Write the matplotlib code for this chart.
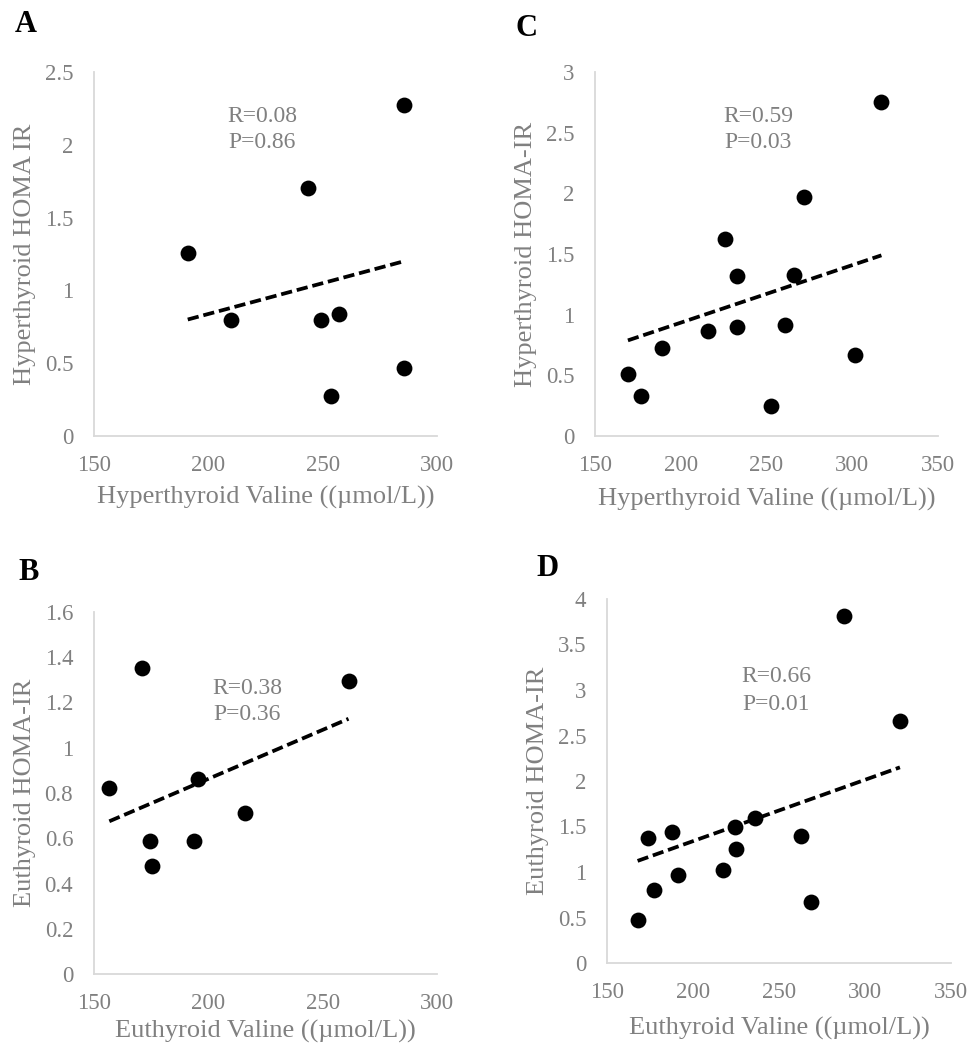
import numpy as np
import matplotlib
matplotlib.use("Agg")
import matplotlib.pyplot as plt

plt.rcParams['font.family'] = ['Liberation Serif', 'DejaVu Serif']

# panel A: hyperthyroid
a_x = [191, 209.9, 243.4, 249.1, 257.3, 253.6, 285.5, 285.5]
a_y = [1.26, 0.80, 1.70, 0.80, 0.84, 0.275, 2.27, 0.467]
a_trend = [0.80, 1.20]
# panel C: hyperthyroid
c_x = [169.2, 177, 189.1, 216.1, 225.8, 232.8, 232.6, 252.4, 260.8, 265.8, 271.7, 301.4, 317]
c_y = [0.514, 0.33, 0.725, 0.868, 1.624, 1.321, 0.896, 0.245, 0.918, 1.33, 1.967, 0.668, 2.75]
c_trend = [0.788, 1.489]
# panel B: euthyroid
b_x = [156.7, 171.1, 174.6, 175.2, 193.7, 195.3, 216, 261.3]
b_y = [0.821, 1.354, 0.589, 0.479, 0.589, 0.862, 0.712, 1.294]
b_trend = [0.675, 1.128]
# panel D: euthyroid
d_x = [167.8, 173.8, 177.1, 188, 191.5, 217.2, 224.6, 225, 236, 262.6, 268.8, 287.8, 320.3]
d_y = [0.469, 1.379, 0.807, 1.445, 0.964, 1.027, 1.496, 1.258, 1.588, 1.401, 0.671, 3.809, 2.658]
d_trend = [1.122, 2.15]

W, H = 972, 1046
fig = plt.figure(figsize=(W / 100, H / 100), dpi=100)
gray = '#808080'

panels = [
    # letter, x, y, trend, box (l, r, t, b px), xlim, xstep, ylim, ystep, xlabel, ylabel,
    # stats, stat pos, letter pos, xlabel pad
    ('A', a_x, a_y, a_trend, (94, 437, 72, 436), (150, 300), 50, (0, 2.5), 0.5,
     'Hyperthyroid Valine ((µmol/L))', 'Hyperthyroid HOMA IR', ('R=0.08', 'P=0.86'), (262, 116), (26, 25), 7),
    ('C', c_x, c_y, c_trend, (595, 938, 72, 436), (150, 350), 50, (0, 3), 0.5,
     'Hyperthyroid Valine ((µmol/L))', 'Hyperthyroid HOMA-IR', ('R=0.59', 'P=0.03'), (758, 116), (526, 28), 8),
    ('B', b_x, b_y, b_trend, (94, 437, 612, 974), (150, 300), 50, (0, 1.6), 0.2,
     'Euthyroid Valine ((µmol/L))', 'Euthyroid HOMA-IR', ('R=0.38', 'P=0.36'), (247, 688), (29, 572), 4),
    ('D', d_x, d_y, d_trend, (607, 951, 599, 963), (150, 350), 50, (0, 4), 0.5,
     'Euthyroid Valine ((µmol/L))', 'Euthyroid HOMA-IR', ('R=0.66', 'P=0.01'), (776, 677), (547, 568), 10),
]

for (letter, xs, ys, trend, box, xlim, xstep, ylim, ystep,
     xlabel, ylabel, stats, spos, lpos, xpad) in panels:
    l, r, t, b = box
    ax = fig.add_axes([l / W, 1 - b / H, (r - l) / W, (b - t) / H])
    ax.scatter(xs, ys, s=130, color='black', linewidths=0, zorder=3, clip_on=False)
    ax.plot([min(xs), max(xs)], trend, color='black', lw=2.7, ls=(0, (3.0, 1.3)))
    ax.set_xlim(*xlim)
    ax.set_ylim(*ylim)
    xt = np.arange(xlim[0], xlim[1] + 1e-6, xstep)
    yt = np.arange(ylim[0], ylim[1] + 1e-6, ystep)
    ax.set_xticks(xt)
    ax.set_xticklabels([f'{v:g}' for v in xt])
    ax.set_yticks(yt)
    ax.set_yticklabels([f'{round(v, 2):g}' for v in yt])
    for s in ['top', 'right']:
        ax.spines[s].set_visible(False)
    for s in ['left', 'bottom']:
        ax.spines[s].set_color('#d9d9d9')
        ax.spines[s].set_linewidth(1.3)
    ax.tick_params(length=0, labelsize=16.5, colors=gray)
    ax.tick_params(axis='x', pad=14)
    ax.tick_params(axis='y', pad=15)
    ax.set_xlabel(xlabel, fontsize=19, color=gray, labelpad=xpad)
    ax.set_ylabel(ylabel, fontsize=19, color=gray, labelpad=6)
    fig.text(spos[0] / W, 1 - spos[1] / H, stats[0], fontsize=17, color=gray,
             ha='center', va='center')
    fig.text(spos[0] / W, 1 - (spos[1] + 27) / H, stats[1], fontsize=17, color=gray,
             ha='center', va='center')
    fig.text(lpos[0] / W, 1 - lpos[1] / H, letter, fontsize=22, fontweight='bold',
             color='black', ha='center', va='center')

fig.savefig('out.png', dpi=100)
